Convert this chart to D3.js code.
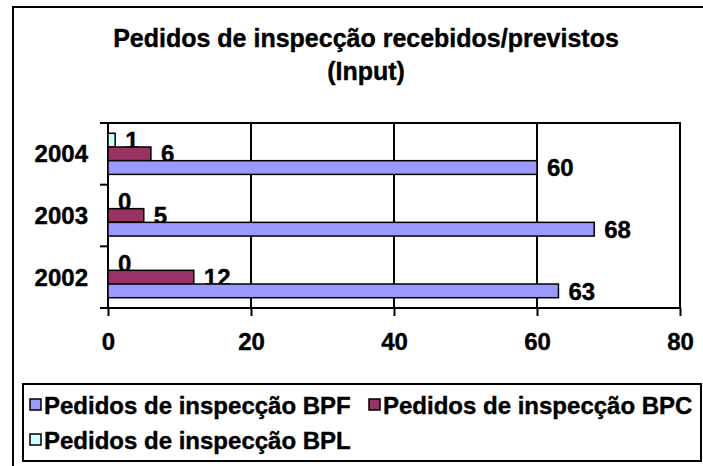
<!DOCTYPE html>
<html>
<head>
<meta charset="utf-8">
<script src="https://cdn.jsdelivr.net/npm/d3@7"></script>
<style>
	body { margin: 0; background: #fff; }
	text { font-family: 'Liberation Sans', Arial, sans-serif; font-weight: bold; stroke: #000; stroke-width: 0.4px; }
</style>
</head>
<body>
<svg id="chart" width="703" height="466"></svg>
<script>
let years = ['2004', '2003', '2002']
let seriesNames = ['Pedidos de inspecção BPL', 'Pedidos de inspecção BPC', 'Pedidos de inspecção BPF']
let seriesKeys = ['BPL', 'BPC', 'BPF']
let seriesColors = ['#CCFFFF', '#993366', '#9999FF']
let bplValues = [1, 0, 0]
let bpcValues = [6, 5, 12]
let bpfValues = [60, 68, 63]
let xTicks = [0, 20, 40, 60, 80]
let titleLines = ['Pedidos de inspecção recebidos/previstos', '(Input)']

let values = {BPL: bplValues, BPC: bpcValues, BPF: bpfValues}

let svg = d3.select('#chart')

// outer frame, runs off the right and bottom edge
svg.append('rect')
	.attr('x', 13).attr('y', 7)
	.attr('width', 720).attr('height', 480)
	.attr('fill', 'none')
	.attr('stroke', '#000')
	.attr('stroke-width', 2)

svg.selectAll('.title')
	.data(titleLines)
	.enter().append('text')
	.attr('x', 366)
	.attr('y', (d, i) => 47 + i * 33)
	.attr('text-anchor', 'middle')
	.style('font-size', '25px')
	.text(d => d)

let plotL = 108, plotR = 680, plotT = 123, plotB = 308

let x = d3.scaleLinear().domain([0, 80]).range([plotL, plotR])
let y = d3.scaleBand().domain(years).range([plotT, plotB])
let ySub = d3.scaleBand().domain(seriesKeys).range([0, y.bandwidth()]).paddingOuter(0.75)

// plot area
svg.append('rect')
	.attr('x', plotL).attr('y', plotT)
	.attr('width', plotR - plotL).attr('height', plotB - plotT)
	.attr('fill', '#fff')
	.attr('stroke', '#000')
	.attr('stroke-width', 2)

svg.selectAll('.grid')
	.data(xTicks.slice(1, -1))
	.enter().append('line')
	.attr('x1', d => x(d)).attr('x2', d => x(d))
	.attr('y1', plotT).attr('y2', plotB)
	.attr('stroke', '#000')
	.attr('stroke-width', 2)

// axes
let xAxis = svg.append('g')
	.attr('transform', `translate(0,${plotB})`)
	.call(d3.axisBottom(x).tickValues(xTicks).tickSize(8).tickPadding(17))
xAxis.select('.domain').remove()
xAxis.selectAll('line').attr('stroke', '#000').attr('stroke-width', 2)
xAxis.selectAll('text').style('font-size', '24px').attr('fill', '#000')

let yEdges = years.map(d => y(d)).concat([plotB])
svg.selectAll('.ytick')
	.data(yEdges)
	.enter().append('line')
	.attr('x1', plotL - 8).attr('x2', plotL)
	.attr('y1', d => d).attr('y2', d => d)
	.attr('stroke', '#000')
	.attr('stroke-width', 2)

svg.selectAll('.ylabel')
	.data(years)
	.enter().append('text')
	.attr('x', 88)
	.attr('y', d => y(d) + y.bandwidth() / 2)
	.attr('dy', '0.36em')
	.attr('text-anchor', 'end')
	.style('font-size', '24px')
	.text(d => d)

// bars
seriesKeys.forEach((key, si) => {
	let g = svg.append('g')
	years.forEach((yr, i) => {
		let v = values[key][i]
		let by = y(yr) + ySub(key)
		g.append('rect')
			.attr('x', x(0))
			.attr('y', by)
			.attr('width', x(v) - x(0))
			.attr('height', ySub.bandwidth())
			.attr('fill', seriesColors[si])
			.attr('stroke', '#000')
			.attr('stroke-width', 1.5)
			.attr('visibility', v === 0 ? 'hidden' : 'visible')
		g.append('text')
			.attr('x', x(v) + 10)
			.attr('y', by + ySub.bandwidth() / 2)
			.attr('dy', '0.36em')
			.style('font-size', '24px')
			.text(v)
	})
})

// legend
svg.append('rect')
	.attr('x', 23).attr('y', 384)
	.attr('width', 678).attr('height', 77)
	.attr('fill', '#fff')
	.attr('stroke', '#000')
	.attr('stroke-width', 2)

let legendItems = [
	{name: seriesNames[2], color: seriesColors[2], x: 30, y: 405},
	{name: seriesNames[1], color: seriesColors[1], x: 369, y: 405},
	{name: seriesNames[0], color: seriesColors[0], x: 30, y: 440}
]
let legend = svg.selectAll('.legend')
	.data(legendItems)
	.enter().append('g')
	.attr('transform', d => `translate(${d.x},${d.y})`)
legend.append('rect')
	.attr('x', 0).attr('y', -6)
	.attr('width', 11).attr('height', 11)
	.attr('fill', d => d.color)
	.attr('stroke', '#000')
	.attr('stroke-width', 1.5)
legend.append('text')
	.attr('x', 14)
	.attr('dy', '0.36em')
	.style('font-size', '24px')
	.text(d => d.name)
</script>
</body>
</html>
